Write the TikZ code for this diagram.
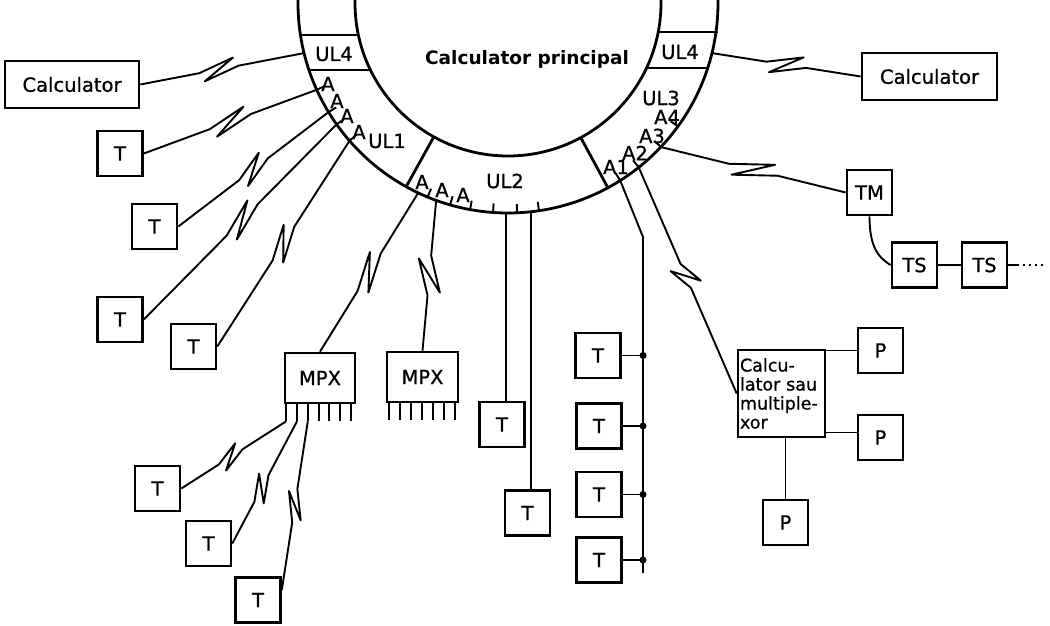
\documentclass[tikz,border=0pt]{standalone}
\usepackage{fontspec}
\setmainfont{DejaVu Sans}
\newfontfamily\heavyf{DejaVu Sans}[FakeBold=0.8]
\usetikzlibrary{calc}
\newcommand\labf{\heavyf\fontsize{19.5}{22}\selectfont}
% zigzag link: #1 start, #2 end, #3 position, #4 half length, #5 height
\newcommand\zz[5]{%
  \draw[conn] let \p1=(#1), \p2=(#2), \n1={atan2(\y2-\y1,\x2-\x1)} in
    (#1) -- ($(#1)!#3!(#2)+(\n1+180:#4)$)
    -- ($(#1)!#3!(#2)+(\n1:0.8*#4)+(\n1+90:#5)$)
    -- ($(#1)!#3!(#2)+(\n1+180:0.8*#4)+(\n1-90:#5)$)
    -- ($(#1)!#3!(#2)+(\n1:#4)$) -- (#2);}
\begin{document}
\begin{tikzpicture}[x=1pt,y=-1pt,
  bx/.style={draw,line width=2.6pt,inner sep=0pt,font=\labf},
  tb/.style={bx,minimum width=45pt,minimum height=45pt},
  conn/.style={line width=1.9pt,line join=round},
  ring/.style={line width=2.8pt},
  lab/.style={inner sep=0pt,font=\labf}]
\useasboundingbox (0,0) rectangle (1050,626);
\coordinate (O) at (508,3);
% ring
\draw[ring] (O) circle[radius=153];
\draw[ring] (O) circle[radius=210];
\draw[ring] ($(O)+(119:153)$) -- ($(O)+(119:210)$);
\draw[ring] ($(O)+(61.6:153)$) -- ($(O)+(61.6:210)$);
\draw[ring] (300.5,35) -- (358.4,35);
\draw[ring] (309,70) -- (370.5,70);
\draw[ring] (658.2,32) -- (717.6,32);
\draw[ring] (646.5,68) -- (707.7,68);
% ring points
\coordinate (rL4) at ($(O)+(166.2:210)$);
\coordinate (rT1) at ($(O)+(155.6:210)$);
\coordinate (rT2) at ($(O)+(148.7:210)$);
\coordinate (rT3) at ($(O)+(144.7:210)$);
\coordinate (rT4) at ($(O)+(139:210)$);
\coordinate (rM1) at ($(O)+(115.3:210)$);
\coordinate (rM2) at ($(O)+(110:210)$);
\coordinate (rV1) at ($(O)+(90.5:210)$);
\coordinate (rV2) at ($(O)+(83.7:210)$);
\coordinate (rB1) at ($(O)+(57.7:210)$);
\coordinate (rB2) at ($(O)+(51.5:210)$);
\coordinate (rB3) at ($(O)+(43.3:210)$);
\coordinate (rR4) at ($(O)+(13.8:210)$);
\foreach \a in {155.6,148.7,144.7,139,112.5,106,100.4,94.1,87.5,81.5,57.7,51.5,43.3,36}
  \draw[conn] ($(O)+(\a:210)$) -- ($(O)+(\a:201)$);
% ring labels
\node[lab,font=\fontsize{18.5}{22}\selectfont\bfseries] (cp) at (527,59) {Calculator principal};
\node[lab] (ul4l) at (334,54) {UL4};
\node[lab] (ul4r) at (680,52) {UL4};
\node[lab] (ul3) at (661,98) {UL3};
\node[lab] (la4) at (667,117) {A4};
\node[lab] (la3) at (652,136) {A3};
\node[lab] (la2) at (635,153) {A2};
\node[lab] (la1) at (616,167) {A1};
\node[lab] (ul1) at (387,141) {UL1};
\node[lab] (ul2) at (505,181) {UL2};
\node[lab] (lA1) at (328,84) {A};
\node[lab] (lA2) at (337,101) {A};
\node[lab] (lA3) at (347,116) {A};
\node[lab] (lA4) at (359,132) {A};
\node[lab] (mA1) at (422,182) {A};
\node[lab] (mA2) at (442,190) {A};
\node[lab] (mA3) at (463,195) {A};
% boxes
\node[bx,minimum width=134pt,minimum height=47pt] (calcL) at (72,84.5) {Calculator};
\node[bx,minimum width=135pt,minimum height=47pt] (calcR) at (929.5,76.5) {Calculator};
\node[tb] (t1) at (120,153.5) {T};
\node[tb] (t2) at (154.5,226.5) {T};
\node[tb] (t3) at (120,319.5) {T};
\node[tb] (t4) at (193.5,346.5) {T};
\node[bx,minimum width=70pt,minimum height=50pt] (mpx1) at (320,378) {MPX};
\node[bx,minimum width=71pt,minimum height=50pt] (mpx2) at (422.5,377) {MPX};
\node[tb] (t5) at (157.5,488.5) {T};
\node[tb] (t6) at (208.5,543.5) {T};
\node[tb] (t7) at (258,600) {T};
\node[tb] (t8) at (502,424.5) {T};
\node[tb] (t9) at (527.5,513) {T};
\node[tb] (t10) at (598,355.5) {T};
\node[tb] (t11) at (599,426) {T};
\node[tb] (t12) at (599,494.5) {T};
\node[tb] (t13) at (599,560) {T};
\node[bx,minimum width=87pt,minimum height=87pt,text width=83pt,align=left,
  inner sep=2pt,font=\heavyf\fontsize{17.5}{19}\selectfont] (cs) at (781.5,393.5)
  {Calcu-\\lator sau\\multiple-\\xor};
\node[tb] (p1) at (880.5,350.5) {P};
\node[tb] (p2) at (880.5,437.5) {P};
\node[tb] (p3) at (785.5,522.5) {P};
\node[tb] (tm) at (869.5,192.5) {TM};
\node[tb] (ts1) at (914.5,265) {TS};
\node[tb] (ts2) at (984.5,265) {TS};
% MPX pins
\foreach \i in {0,...,6}
  \draw[conn] ($(mpx1.south west)+(2.5+10.8*\i,0)$) -- ++(0,17) coordinate (m1p\i);
\foreach \i in {0,...,6}
  \draw[conn] ($(mpx2.south west)+(3+11*\i,0)$) -- ++(0,17) coordinate (m2p\i);
% zigzag links
\zz{calcL.east}{rL4}{0.48}{20pt}{9pt}
\zz{t1.east}{rT1}{0.5}{22pt}{9.5pt}
\zz{t2.east}{rT2}{0.5}{18pt}{10pt}
\zz{t3.east}{rT3}{0.51}{22pt}{10pt}
\zz{t4.east}{rT4}{0.5}{20pt}{10pt}
\zz{mpx1.north}{rM1}{0.5}{22pt}{10pt}
\zz{mpx2.north}{rM2}{0.5}{20pt}{12pt}
\zz{t5.east}{m1p0}{0.47}{14pt}{9pt}
\zz{t6.east}{m1p1}{0.45}{15pt}{9pt}
\coordinate (t7a) at ([yshift=10pt]t7.east);
\zz{t7a}{m1p2}{0.5}{17pt}{8pt}
\zz{rB2}{cs.west}{0.48}{13pt}{12pt}
\zz{rB3}{tm.west}{0.5}{25pt}{10pt}
\zz{rR4}{calcR.west}{0.5}{20pt}{10pt}
% straight links
\draw[conn] (rV1) -- (rV1 |- t8.north);
\draw[conn] (rV2) -- (rV2 |- t9.north);
\coordinate (bend) at (643,237);
\coordinate (busend) at (643,573);
\draw[conn] (rB1) -- (bend) -- (busend);
\foreach \t in {t10,t11,t12,t13}{
  \draw[conn] (\t.east) -- (\t.east -| bend);
  \fill (\t.east -| bend) circle[radius=3.5];}
\draw[conn] (p1.west) -- (p1.west -| cs.east);
\coordinate (p2w) at ([yshift=5pt]p2.west);
\draw[conn] (p2w) -- (p2w -| cs.east);
\draw[conn] (p3.north) -- (p3.north |- cs.south);
\draw[conn] (tm.south) .. controls +(0,28) and +(-14,-8) .. (ts1.west);
\draw[conn] (ts1) -- (ts2);
\coordinate (tsend) at (1017,265);
\coordinate (dotsend) at (1044,265);
\draw[conn] (ts2.east) -- (tsend);
\draw[line width=2pt,dash pattern=on 2pt off 4pt] (tsend) -- (dotsend);
\end{tikzpicture}
\end{document}
